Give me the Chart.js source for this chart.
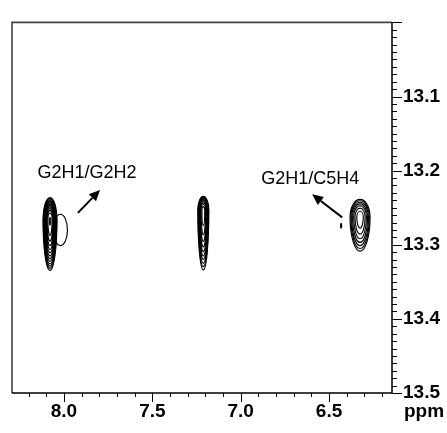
<!DOCTYPE html>
<html>
<head>
<meta charset="utf-8">
<script src="https://cdn.jsdelivr.net/npm/chart.js@4.4.1/dist/chart.umd.min.js"></script>
<style>
  html, body { margin: 0; padding: 0; background: #fff; }
  canvas { display: block; }
</style>
</head>
<body>
<canvas id="noesy" width="447" height="433"></canvas>
<script>
// spectral window (ppm)
const f2Min = 6.144, f2Max = 8.294;
const f1Min = 13.0, f1Max = 13.5;

const f2TickLabels = [8.0, 7.5, 7.0, 6.5];
const f1TickLabels = [13.1, 13.2, 13.3, 13.4, 13.5];

// cross peaks (centre, height, linewidths; f1 widths differ above/below the centre)
const peakF2 = [8.079, 8.020, 7.2115, 6.3247, 6.432];
const peakF1 = [13.2665, 13.280, 13.2533, 13.2625, 13.2744];
const peakHeight = [38, 1.25, 18, 7.5, 1.1];
const peakWidthF2 = [0.01460, 0.0593, 0.01294, 0.0282, 0.0078];
const peakWidthUp = [0.01117, 0.0316, 0.0077, 0.0118, 0.0076];
const peakWidthDown = [0.02530, 0.0316, 0.0335, 0.0230, 0.0076];

const contourLevels = [1, 1.35, 1.82, 2.46, 3.32, 4.48, 6.05, 8.17, 11.0, 14.9, 20.1, 27.1, 36.6];

// assignments with arrows
const assignText = ['G2H1/G2H2', 'G2H1/C5H4'];
const assignF2 = [7.870, 6.607];
const assignF1 = [13.203, 13.211];
const arrowFromF2 = [7.921, 6.426];
const arrowFromF1 = [13.257, 13.263];
const arrowToF2 = [7.796, 6.596];
const arrowToF1 = [13.226, 13.232];

const tickFont = { family: '"Liberation Sans", Arial, Helvetica, sans-serif', size: 19, weight: 'bold' };

const spectrumOverlay = {
  id: 'spectrumOverlay',
  afterDatasetsDraw(chart) {
    const { ctx, chartArea: a, scales: { x, y } } = chart;

    // contours
    ctx.save();
    ctx.beginPath();
    ctx.rect(a.left, a.top, a.right - a.left, a.bottom - a.top);
    ctx.clip();
    ctx.strokeStyle = '#000';
    ctx.lineWidth = 1.15;
    peakF2.forEach((f2, i) => {
      const cx = x.getPixelForValue(f2);
      const cy = y.getPixelForValue(peakF1[i]);
      const wx = Math.abs(x.getPixelForValue(f2 + peakWidthF2[i]) - cx);
      const wu = Math.abs(y.getPixelForValue(peakF1[i] - peakWidthUp[i]) - cy);
      const wd = Math.abs(y.getPixelForValue(peakF1[i] + peakWidthDown[i]) - cy);
      contourLevels.forEach(lv => {
        if (lv >= peakHeight[i]) return;
        const k = Math.sqrt(2 * Math.log(peakHeight[i] / lv));
        ctx.beginPath();
        ctx.ellipse(cx, cy, k * wx, k * wu, 0, Math.PI, 2 * Math.PI);
        ctx.ellipse(cx, cy, k * wx, k * wd, 0, 0, Math.PI);
        ctx.closePath();
        ctx.stroke();
      });
    });
    ctx.restore();

    // assignments
    ctx.save();
    ctx.fillStyle = '#000';
    ctx.strokeStyle = '#000';
    ctx.font = '18px "Liberation Sans", Arial, Helvetica, sans-serif';
    ctx.textAlign = 'center';
    ctx.textBaseline = 'middle';
    assignText.forEach((t, i) => {
      ctx.fillText(t, x.getPixelForValue(assignF2[i]), y.getPixelForValue(assignF1[i]));
      const x0 = x.getPixelForValue(arrowFromF2[i]), y0 = y.getPixelForValue(arrowFromF1[i]);
      const x1 = x.getPixelForValue(arrowToF2[i]), y1 = y.getPixelForValue(arrowToF1[i]);
      const ang = Math.atan2(y1 - y0, x1 - x0);
      const hl = 11, hw = 5;
      const bx = x1 - hl * Math.cos(ang), by = y1 - hl * Math.sin(ang);
      ctx.lineWidth = 2;
      ctx.beginPath();
      ctx.moveTo(x0, y0);
      ctx.lineTo(bx, by);
      ctx.stroke();
      ctx.beginPath();
      ctx.moveTo(x1, y1);
      ctx.lineTo(bx + hw * Math.sin(ang), by - hw * Math.cos(ang));
      ctx.lineTo(bx - hw * Math.sin(ang), by + hw * Math.cos(ang));
      ctx.closePath();
      ctx.fill();
    });
    ctx.restore();
  },
  afterDraw(chart) {
    const { ctx, chartArea: a, scales: { x, y } } = chart;
    ctx.save();
    // open sides of the frame
    ctx.strokeStyle = '#444';
    ctx.lineWidth = 1.6;
    ctx.beginPath();
    ctx.moveTo(a.left, a.bottom);
    ctx.lineTo(a.left, a.top);
    ctx.lineTo(a.right, a.top);
    ctx.stroke();
    // axes
    ctx.strokeStyle = '#000';
    ctx.lineWidth = 1.5;
    ctx.beginPath();
    ctx.moveTo(a.left, a.bottom);
    ctx.lineTo(a.right, a.bottom);
    ctx.lineTo(a.right, a.top);
    ctx.stroke();
    // ticks: 0.1 ppm along f2, 0.01 ppm along f1
    ctx.lineWidth = 1;
    ctx.beginPath();
    for (let k = Math.ceil(f2Min * 10); k <= Math.floor(f2Max * 10); k++) {
      const px = Math.round(x.getPixelForValue(k / 10)) + 0.5;
      ctx.moveTo(px, a.bottom);
      ctx.lineTo(px, a.bottom + (k % 5 === 0 ? 9 : 4));
    }
    for (let k = Math.round(f1Min * 100); k <= Math.round(f1Max * 100); k++) {
      const py = Math.round(y.getPixelForValue(k / 100)) + 0.5;
      ctx.moveTo(a.right, py);
      ctx.lineTo(a.right + (k % 10 === 0 ? 10 : 5), py);
    }
    ctx.stroke();
    // unit
    ctx.fillStyle = '#000';
    ctx.font = 'bold 19px "Liberation Sans", Arial, Helvetica, sans-serif';
    ctx.textAlign = 'center';
    ctx.textBaseline = 'middle';
    ctx.fillText('ppm', 424, 412);
    ctx.restore();
  }
};

new Chart(document.getElementById('noesy').getContext('2d'), {
  type: 'scatter',
  data: {
    datasets: [{
      data: peakF2.map((v, i) => ({ x: v, y: peakF1[i] })),
      pointRadius: 0,
      pointHoverRadius: 0
    }]
  },
  options: {
    responsive: false,
    animation: false,
    events: [],
    layout: { padding: { left: 12, top: 14, right: 0, bottom: 0 } },
    scales: {
      x: {
        type: 'linear',
        reverse: true,
        min: f2Min,
        max: f2Max,
        afterBuildTicks: s => { s.ticks = f2TickLabels.map(v => ({ value: v })); },
        afterFit: s => { s.height = 40; },
        grid: { display: false, drawTicks: false },
        border: { display: false },
        ticks: {
          autoSkip: false,
          maxRotation: 0,
          padding: 7,
          color: '#000',
          font: tickFont,
          callback: v => v.toFixed(1)
        }
      },
      y: {
        type: 'linear',
        position: 'right',
        reverse: true,
        min: f1Min,
        max: f1Max,
        afterBuildTicks: s => { s.ticks = f1TickLabels.map(v => ({ value: v })); },
        afterFit: s => { s.width = 55; },
        grid: { display: false, drawTicks: false },
        border: { display: false },
        ticks: {
          autoSkip: false,
          padding: 11,
          color: '#000',
          font: tickFont,
          callback: v => v.toFixed(1)
        }
      }
    },
    plugins: {
      legend: { display: false },
      tooltip: { enabled: false }
    }
  },
  plugins: [spectrumOverlay]
});
</script>
</body>
</html>
